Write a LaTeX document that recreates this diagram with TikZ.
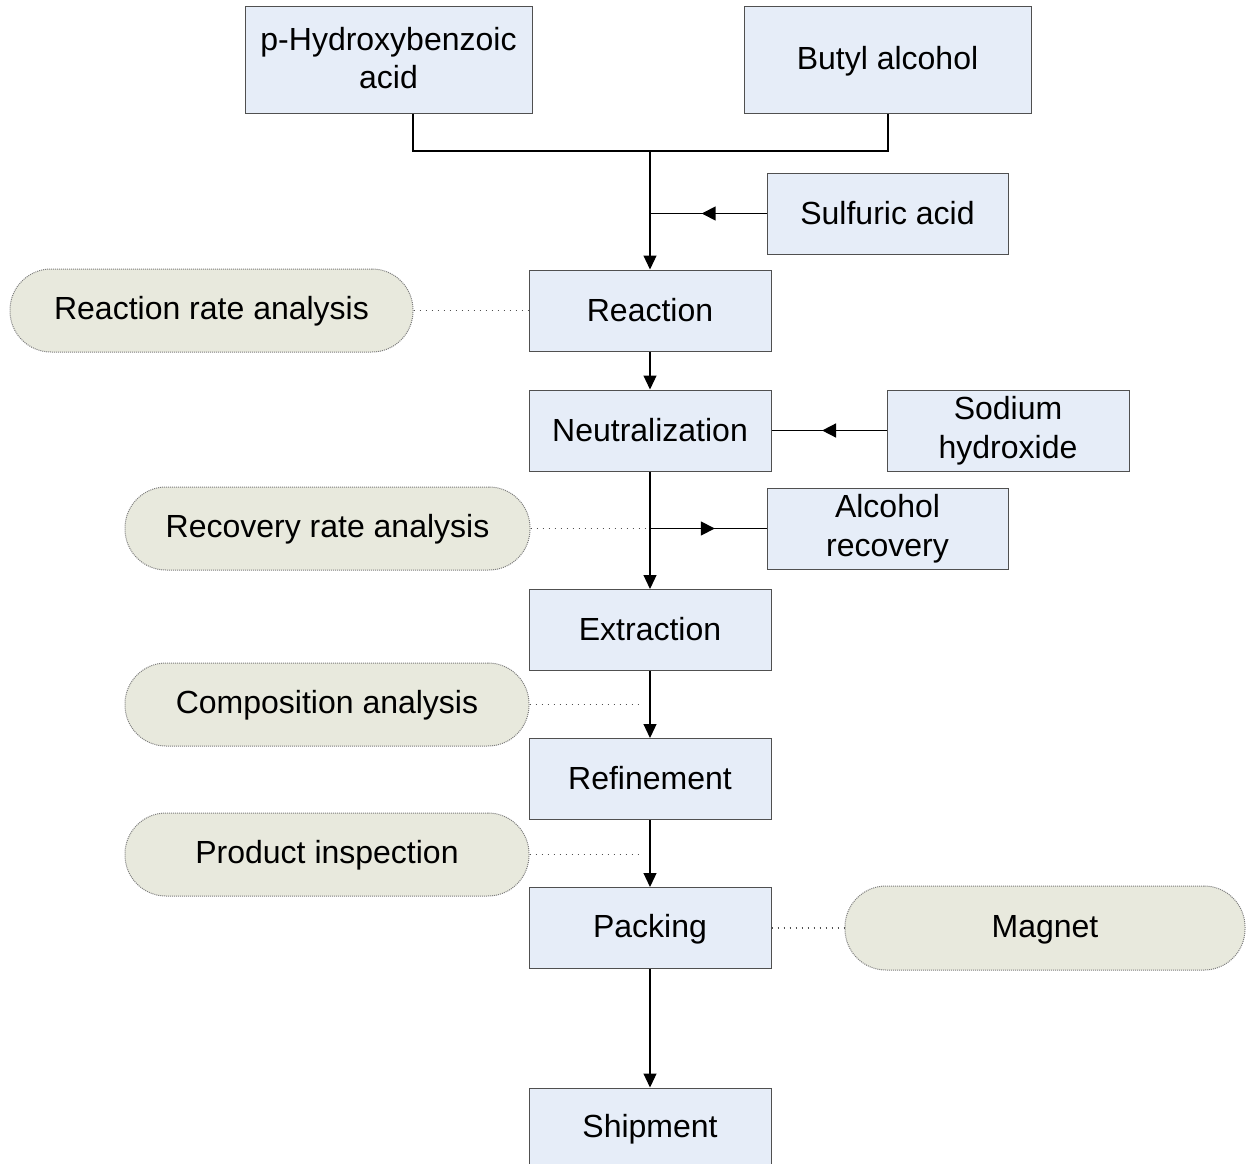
\documentclass[tikz,border=0pt]{standalone}
\usepackage{fontspec}
\setmainfont{Liberation Sans}
\usetikzlibrary{arrows.meta,calc}
\definecolor{boxfill}{RGB}{230,237,248}
\definecolor{boxline}{RGB}{80,80,80}
\definecolor{pillfill}{RGB}{232,233,221}
\definecolor{pillline}{RGB}{125,125,125}
\definecolor{dotline}{RGB}{80,80,80}
\newcommand\lnstrut{\rule[-0.13em]{0pt}{0.93em}}
\begin{document}
\begin{tikzpicture}[x=1pt,y=-1pt,
  txt/.style={inner sep=0pt, align=center, font=\fontsize{32}{38.6}\selectfont,
    execute at begin node=\lnstrut, execute at end node=\lnstrut},
  box/.style={txt, draw=boxline, fill=boxfill, line width=1pt, minimum width=242pt, minimum height=81pt},
  pill/.style={txt, draw=pillline, fill=pillfill, dash pattern=on 1pt off 1pt, line width=1pt,
    rounded corners=41pt, minimum width=404pt, minimum height=83pt},
  conn/.style={line width=1.2pt},
  flow/.style={line width=1.2pt, -{Triangle[length=14pt,width=13pt]}},
  side/.style={line width=1.7pt, -{Triangle[length=14pt,width=14pt]}},
  dots/.style={draw=dotline, line width=1.1pt, dash pattern=on 1pt off 5pt}]
\clip (0,0) rectangle (1247,1164);
\fill[white] (0,0) rectangle (1247,1164);

% nodes
\node[box, minimum width=287pt, minimum height=106pt] (phba) at (388.5,60) {p-Hydroxybenzoic\\acid};
\node[box, minimum width=287pt, minimum height=106pt] (butyl) at (887.5,60) {Butyl alcohol};
\node[box, minimum width=241pt] (sulf) at (887.5,213.5) {Sulfuric acid};
\node[box] (reaction) at (650,310.5) {Reaction};
\node[pill, minimum width=403pt] (rra) at (211.5,310.5) {Reaction rate analysis};
\node[box] (neut) at (650,430.5) {Neutralization};
\node[box] (naoh) at (1008,430.5) {Sodium\\hydroxide};
\node[box, minimum width=241pt] (alrec) at (887.5,528.5) {Alcohol\\recovery};
\node[pill, minimum width=405pt] (rec) at (327.5,528.5) {Recovery rate analysis};
\node[box] (extr) at (650,630) {Extraction};
\node[pill] (comp) at (327,704.5) {Composition analysis};
\node[box] (refi) at (650,779) {Refinement};
\node[pill] (prod) at (327,854.5) {Product inspection};
\node[box] (pack) at (650,928) {Packing};
\node[pill, minimum width=400pt, minimum height=84pt] (magnet) at (1045,928) {Magnet};
\node[box] (ship) at (650,1128.5) {Shipment};

% junction coordinates
\coordinate (jl) at (413,151);
\coordinate (jr) at (888,151);
\coordinate (j1) at (650,151);
\coordinate (js) at (650,213.5);
\coordinate (ja) at (650,528.5);
\coordinate (jc) at (642,704.5);
\coordinate (jp) at (642,854.5);

% connectors
\draw[conn] (phba.south -| jl) -- (jl) -- (jr) -- (butyl.south -| jr);
\draw[flow] (j1) -- (reaction.north);
\draw[conn] (sulf.west) -- (js);
\draw[side] (sulf.west) -- ($(sulf.west)!0.556!(js)$);
\draw[flow] (reaction.south) -- (neut.north);
\draw[conn] (naoh.west) -- (neut.east);
\draw[side] (naoh.west) -- ($(naoh.west)!0.56!(neut.east)$);
\draw[flow] (neut.south) -- (extr.north);
\draw[conn] (ja) -- (alrec.west);
\draw[side] (ja) -- ($(ja)!0.556!(alrec.west)$);
\draw[flow] (extr.south) -- (refi.north);
\draw[flow] (refi.south) -- (pack.north);
\draw[flow] (pack.south) -- (ship.north);

% dotted links
\draw[dots] (rra.east) -- (reaction.west);
\draw[dots] (rec.east) -- (ja);
\draw[dots] (comp.east) -- (jc);
\draw[dots] (prod.east) -- (jp);
\draw[dots] (pack.east) -- (magnet.west);
\end{tikzpicture}
\end{document}
